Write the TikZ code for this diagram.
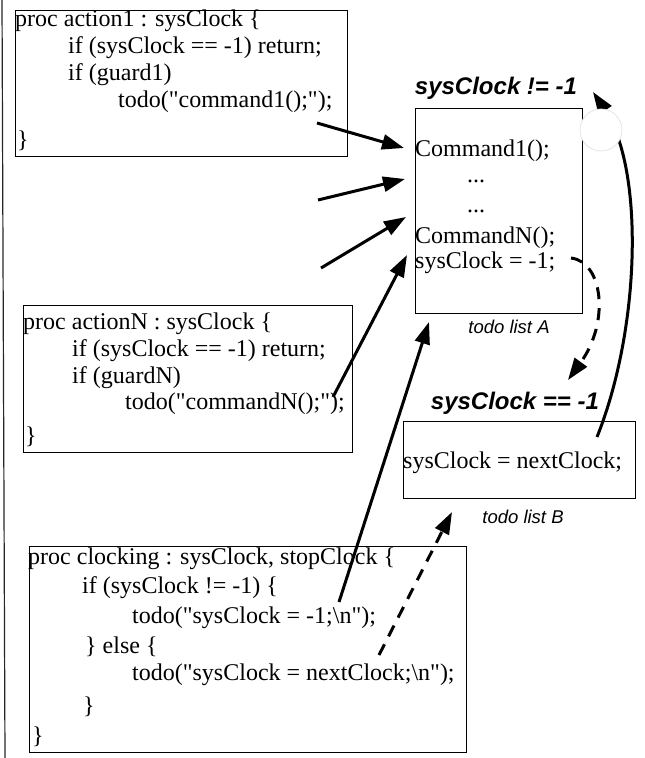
\documentclass[tikz,border=0pt]{standalone}
\usepackage{fontspec}
\setmainfont{Liberation Serif}[Ligatures=TeXOff]
\newfontfamily\labelfont{Liberation Sans}
\usetikzlibrary{arrows.meta}

\tikzset{
  codebox/.style={draw, line width=1pt, inner sep=0pt, anchor=north west},
  codeline/.style={anchor=west, inner sep=0pt, font=\fontsize{24}{24}\selectfont,
                   text height=17pt, text depth=5pt},
  guardlabel/.style={inner sep=0pt, font=\labelfont\bfseries\itshape\fontsize{24}{24}\selectfont},
  listlabel/.style={inner sep=0pt, font=\labelfont\itshape\fontsize{18.5}{18.5}\selectfont},
  flow/.style={line width=3pt, -{Triangle[length=22pt,width=15pt]}},
  resetflow/.style={flow, dash pattern=on 12pt off 9pt},
}

\begin{document}
\begin{tikzpicture}[x=1pt,y=-1pt]
\useasboundingbox (0,0) rectangle (645,758);

% page edge
\draw[line width=1.2pt, black!85] (2,0) -- (5,758);

% ---- proc action1 ----
\node (act1) [codebox, minimum width=332pt, minimum height=146pt] at (15,10) {};
\node (a1l1) [codeline] at (15,20)  {proc action1 : sysClock \{};
\node (a1l2) [codeline] at (68,47)  {if (sysClock == -1) return;};
\node (a1l3) [codeline] at (68,74)  {if (guard1)};
\node (a1l4) [codeline] at (118,101) {todo("command1();");};
\node (a1l5) [codeline] at (17,141) {\}};

% ---- proc actionN ----
\node (actN) [codebox, minimum width=329pt, minimum height=147pt] at (23,305) {};
\node (aNl1) [codeline] at (23,323)  {proc actionN : sysClock \{};
\node (aNl2) [codeline] at (72,350)  {if (sysClock == -1) return;};
\node (aNl3) [codeline] at (72,377)  {if (guardN)};
\node (aNl4) [codeline] at (125,403) {todo("commandN();");};
\node (aNl5) [codeline] at (25,437)  {\}};

% ---- proc clocking ----
\node (clk) [codebox, minimum width=437pt, minimum height=206pt] at (29,546) {};
\node (cl1) [codeline] at (28,558)  {proc clocking : sysClock, stopClock \{};
\node (cl2) [codeline] at (82,587)  {if (sysClock != -1) \{};
\node (cl3) [codeline] at (132,617) {todo("sysClock = -1;\textbackslash n");};
\node (cl4) [codeline] at (85,647)  {\} else \{};
\node (cl5) [codeline] at (132,674) {todo("sysClock = nextClock;\textbackslash n");};
\node (cl6) [codeline] at (83,707)  {\}};
\node (cl7) [codeline] at (32,737)  {\}};

% ---- todo list A ----
\node (listA) [codebox, minimum width=167pt, minimum height=205pt] at (415,108) {};
\node (guardA) [guardlabel] at (496,88) {sysClock != -1};
\node (cmd1) [codeline] at (415,150) {Command1();};
\node (dotsA) [codeline] at (467,176) {...};
\node (dotsB) [codeline] at (467,206) {...};
\node (cmdN) [codeline] at (415,237) {CommandN();};
\node (resetA) [codeline] at (415,262) {sysClock = -1;};
\node (nameA) [listlabel] at (509,327) {todo list A};

% ---- todo list B ----
\node (listB) [codebox, minimum width=232pt, minimum height=77pt] at (403,421) {};
\node (guardB) [guardlabel] at (515,403) {sysClock == -1};
\node (nextB) [codeline] at (403,462) {sysClock = nextClock;};
\node (nameB) [listlabel] at (523,517) {todo list B};

% ---- connector ends ----
\coordinate (s1) at (317,123);  \coordinate (t1) at (404,148);
\coordinate (s2) at (318,200);  \coordinate (t2) at (405,179);
\coordinate (s3) at (321,268);  \coordinate (t3) at (406,217);
\coordinate (s4) at (333,397);  \coordinate (t4) at (407,255);
\coordinate (s5) at (339,602);  \coordinate (t5) at (429,322);
\coordinate (s6) at (379,655);  \coordinate (t6) at (452,512);
\coordinate (s7) at (571,258);  \coordinate (t7) at (568,380);
\coordinate (s8) at (597,437);  \coordinate (t8) at (593,92);

% commands pushed onto list A
\draw[flow] (s1) -- (t1);
\draw[flow] (s2) -- (t2);
\draw[flow] (s3) -- (t3);
\draw[flow] (s4) -- (t4);
\draw[flow] (s5) -- (t5);

% clock update pushed onto list B
\draw[resetflow] (s6) -- (t6);

% list A hands over to list B
\draw[resetflow] (s7) .. controls (603,262) and (610,322) .. (t7);

% list B returns to list A
\draw[flow] (s8) .. controls (640,330) and (645,170) .. (t8);
\fill[white, draw=black!10, line width=0.8pt] (601,130) circle (21pt);

\end{tikzpicture}
\end{document}
